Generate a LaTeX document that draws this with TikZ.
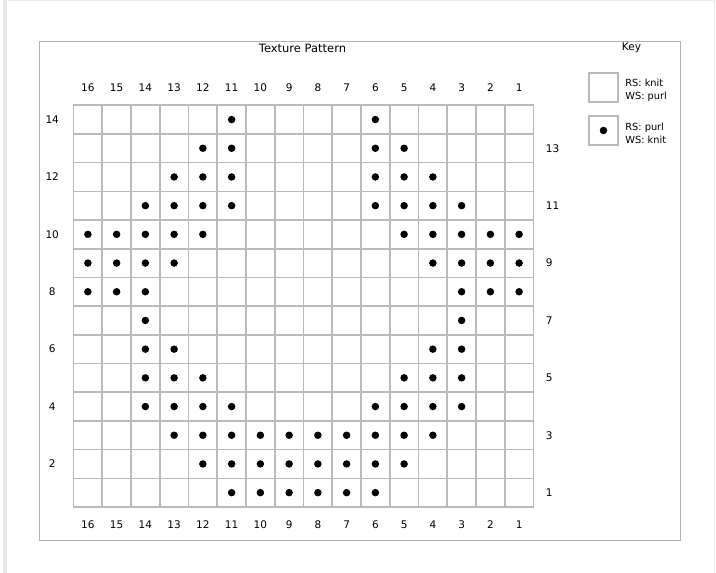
\documentclass[tikz,border=0pt]{standalone}
\usepackage{fontspec}
\setmainfont{DejaVu Sans}
\usetikzlibrary{positioning}

\begin{document}
\begin{tikzpicture}[
  x=1pt, y=-1pt,
  cell/.style={rectangle, draw=black!27, line width=1.6pt, minimum width=28.75pt,
               minimum height=28.7pt, inner sep=0pt},
  purl/.style={circle, fill=black, minimum size=7.5pt, inner sep=0pt},
  keytext/.style={align=left, font=\fontsize{9.8}{13}\selectfont},
  every node/.style={font=\fontsize{10.5}{13}\selectfont}
]
  \useasboundingbox (0,0) rectangle (716,573);
  % page edge
  \fill[black!9] (3,0) rectangle (6.5,573);
  \draw[black!7] (6.5,0.5) -- (714,0.5) -- (714,573);
  % frame and headings
  \draw[black!30, line width=1pt] (39.5,41) rectangle (680.5,540.5);
  \node[font=\fontsize{11.5}{13}\selectfont] (title) at (302.5,48) {Texture Pattern};
  \node (key) at (631.5,47.5) {Key};

  % chart cells, column 1 on the right, row 1 at the bottom
  \foreach \r in {1,...,14}
    \foreach \c in {1,...,16}
      \node[cell] (c-\r-\c) at ({73.5+(16.5-\c)*28.75}, {507-(\r-0.5)*28.7}) {};

  % column numbers
  \foreach \c in {1,...,16} {
    \node[above=17pt of c-14-\c, anchor=center] (top-\c) {\c};
    \node[below=17pt of c-1-\c, anchor=center] (bot-\c) {\c};
  }
  % row numbers: even on the left, odd on the right
  \foreach \r in {2,4,...,14}
    \node[left=20.5pt of c-\r-16, anchor=center] (left-\r) {\r};
  \foreach \r in {1,3,...,13}
    \node[right=8pt of c-\r-1] (right-\r) {\r};

  % purl stitches
  \foreach \r/\cols in {14/{11,6}, 13/{12,11,6,5}, 12/{13,12,11,6,5,4},
                        11/{14,13,12,11,6,5,4,3}, 10/{16,15,14,13,12,5,4,3,2,1},
                        9/{16,15,14,13,4,3,2,1}, 8/{16,15,14,3,2,1}, 7/{14,3},
                        6/{14,13,4,3}, 5/{14,13,12,5,4,3}, 4/{14,13,12,11,6,5,4,3},
                        3/{13,12,11,10,9,8,7,6,5,4}, 2/{12,11,10,9,8,7,6,5},
                        1/{11,10,9,8,7,6}}
    \foreach \c in \cols
      \node[purl] (p-\r-\c) at (c-\r-\c) {};

  % key
  \node[cell, minimum width=29pt, minimum height=29pt] (knit) at (603.5,87.5) {};
  \node[keytext, right=3pt of knit, yshift=-2.5pt] (knit-txt) {RS: knit\\WS: purl};
  \node[cell, minimum width=29pt, minimum height=29pt] (purlbox) at (603.5,130.5) {};
  \node[purl] (purldot) at (purlbox) {};
  \node[keytext, right=3pt of purlbox, yshift=-2.5pt] (purl-txt) {RS: purl\\WS: knit};
\end{tikzpicture}
\end{document}
